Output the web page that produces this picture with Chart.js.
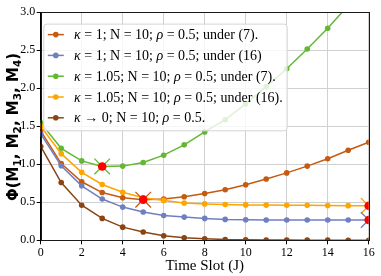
<!DOCTYPE html>
<html><head><meta charset="utf-8">
<script src="https://cdn.jsdelivr.net/npm/chart.js@4/dist/chart.umd.min.js"></script>
<style>html,body{margin:0;padding:0;background:#fff}canvas{display:block}</style>
</head><body>
<canvas id="c" width="381" height="276"></canvas>
<script>
// ---- data ----
const timeSlots = [0,1,2,3,4,5,6,7,8,9,10,11,12,13,14,15,16];
const kappa1Eq7   = [1.44,1.01,0.77,0.628,0.56,0.535,0.543,0.573,0.615,0.666,0.73,0.806,0.887,0.976,1.074,1.185,1.29];
const kappa1Eq16  = [1.40,0.98,0.717,0.543,0.437,0.373,0.326,0.305,0.288,0.275,0.271,0.268,0.267,0.267,0.267,0.267,0.267];
const kappa105Eq7 = [1.545,1.21,1.045,0.972,0.976,1.023,1.12,1.256,1.426,1.587,1.796,2.02,2.258,2.517,2.79,3.09,3.41];
const kappa105Eq16= [1.50,1.14,0.895,0.734,0.632,0.56,0.525,0.49,0.479,0.471,0.466,0.463,0.462,0.46,0.458,0.456,0.454];
const kappaZero   = [1.235,0.76,0.462,0.288,0.173,0.11,0.059,0.033,0.02,0.01,0.006,0.004,0.003,0.002,0.002,0.001,0.001];
const seriesLabels = [
  "κ = 1; N = 10; ρ = 0.5; under (7).",
  "κ = 1; N = 10; ρ = 0.5; under (16)",
  "κ = 1.05; N = 10; ρ = 0.5; under (7).",
  "κ = 1.05; N = 10; ρ = 0.5; under (16).",
  "κ → 0; N = 10; ρ = 0.5."
];
const minimaX = [3, 5, 16, 16];
const minimaY = [0.972, 0.535, 0.454, 0.267];
const xTicks = [0,2,4,6,8,10,12,14,16];
const yTicks = [0.0,0.5,1.0,1.5,2.0,2.5,3.0];
const xTitle = "Time Slot (J)";
const yTitle = "Φ(M₁, M₂, M₃, M₄)";

// ---- styles ----
const colors = ['#c55a11', '#6f7fc0', '#62b832', '#ffa500', '#8b4513'];
const minimaArmColors = [colors[2], colors[0], colors[3], colors[1]];
const seriesValues = [kappa1Eq7, kappa1Eq16, kappa105Eq7, kappa105Eq16, kappaZero];
const orders = [6,5,4,3,2];

const toPts = (xs, ys) => xs.map((x,i) => ({x, y: ys[i]}));

const datasets = seriesValues.map((vals, i) => ({
  label: seriesLabels[i],
  data: toPts(timeSlots, vals),
  borderColor: colors[i],
  backgroundColor: colors[i],
  pointBackgroundColor: colors[i],
  pointBorderColor: colors[i],
  borderWidth: 1.5,
  pointRadius: 2.8,
  pointBorderWidth: 0,
  tension: 0,
  order: orders[i]
}));
datasets.push({
  label: 'minima-arms',
  data: toPts(minimaX, minimaY),
  showLine: false,
  pointStyle: 'crossRot',
  pointRadius: 11,
  pointBorderWidth: 1.3,
  pointBorderColor: minimaArmColors,
  pointBackgroundColor: 'transparent',
  order: 1
});
datasets.push({
  label: 'minima',
  data: toPts(minimaX, minimaY),
  showLine: false,
  pointStyle: 'circle',
  pointRadius: 4.3,
  pointBorderWidth: 0,
  pointBackgroundColor: '#ff0000',
  pointBorderColor: '#ff0000',
  order: 0
});

const serif = "'Liberation Serif', 'DejaVu Serif', serif";

const overlay = {
  id: 'overlay',
  afterDatasetsDraw(chart) {
    const ctx = chart.ctx, ca = chart.chartArea;
    ctx.save();
    // spines
    ctx.strokeStyle = '#1a1a1a';
    ctx.lineWidth = 1;
    ctx.strokeRect(Math.round(ca.left) + 0.5, Math.round(ca.top) + 0.5,
                   Math.round(ca.right) - Math.round(ca.left) - 1 + 1, Math.round(ca.bottom) - Math.round(ca.top));
    // legend box
    const bx = ca.left + 2.6, by = ca.top + 11.3, bw = 243.4, bh = 106.7;
    ctx.beginPath();
    ctx.roundRect(bx + 0.5, by + 0.5, bw, bh, 3);
    ctx.fillStyle = 'rgba(255,255,255,0.8)';
    ctx.fill();
    ctx.strokeStyle = '#d4d4d4';
    ctx.lineWidth = 1;
    ctx.stroke();
    ctx.textBaseline = 'middle';
    seriesLabels.forEach((lab, i) => {
      const cy = by + 11 + i * 20.8;
      ctx.strokeStyle = colors[i];
      ctx.lineWidth = 1.5;
      ctx.beginPath();
      ctx.moveTo(bx + 4.5, cy); ctx.lineTo(bx + 20.5, cy); ctx.stroke();
      ctx.fillStyle = colors[i];
      ctx.beginPath(); ctx.arc(bx + 12.5, cy, 2.8, 0, Math.PI * 2); ctx.fill();
      ctx.fillStyle = '#000';
      let x = bx + 30.8;
      for (const ch of lab) {
        const it = /[κρ]/.test(ch);
        ctx.font = (it ? 'italic ' : '') + '14px ' + serif;
        ctx.fillText(ch, x, cy + 1);
        x += ctx.measureText(ch).width;
      }
    });
    ctx.restore();
  },
  afterDraw(chart) {
    const ctx = chart.ctx;
    const subMap = {'₁':'1','₂':'2','₃':'3','₄':'4'};
    const big = 15, small = 10.5;
    const fam = "'DejaVu Sans', sans-serif";
    const pieces = [];
    for (const ch of yTitle) {
      if (subMap[ch]) pieces.push({t: subMap[ch], s: small, dy: 3});
      else pieces.push({t: ch, s: big, dy: 0});
    }
    ctx.save();
    ctx.fillStyle = '#000';
    ctx.textBaseline = 'alphabetic';
    let total = 0;
    pieces.forEach(p => { ctx.font = 'bold ' + p.s + 'px ' + fam; p.w = ctx.measureText(p.t).width; total += p.w; });
    ctx.translate(17.5, 127);
    ctx.rotate(-Math.PI / 2);
    let x = -total / 2;
    pieces.forEach(p => { ctx.font = 'bold ' + p.s + 'px ' + fam; ctx.fillText(p.t, x, p.dy); x += p.w; });
    ctx.restore();
  }
};

new Chart(document.getElementById('c'), {
  type: 'line',
  data: { datasets },
  options: {
    responsive: false,
    devicePixelRatio: 1,
    animation: false,
    events: [],
    layout: { padding: { left: 0, top: 4.7, right: 7, bottom: 0 } },
    plugins: { legend: { display: false }, tooltip: { enabled: false } },
    scales: {
      x: {
        type: 'linear', min: 0, max: 16,
        afterBuildTicks: s => { s.ticks = xTicks.map(v => ({value: v})); },
        afterFit: s => { s.height = 35.7; },
        grid: { color: '#d0d0d0', lineWidth: 1, tickLength: 4, tickColor: '#000' },
        border: { color: '#000', width: 1 },
        ticks: { color: '#000', font: { family: serif, size: 12 }, padding: 1, maxRotation: 0,
                 callback: v => String(v) },
        title: { display: true, text: xTitle, color: '#000', font: { family: serif, size: 15 }, padding: { top: 0, bottom: 0.5 } }
      },
      y: {
        type: 'linear', min: 0, max: 3,
        afterBuildTicks: s => { s.ticks = yTicks.map(v => ({value: v})); },
        afterFit: s => { s.width = 40.7; },
        grid: { color: '#d0d0d0', lineWidth: 1, tickLength: 4, tickColor: '#000' },
        border: { color: '#000', width: 1 },
        ticks: { color: '#000', font: { family: serif, size: 12 }, padding: 1.5,
                 callback: v => Number(v).toFixed(1) }
      }
    }
  },
  plugins: [overlay]
});
</script>
</body></html>
